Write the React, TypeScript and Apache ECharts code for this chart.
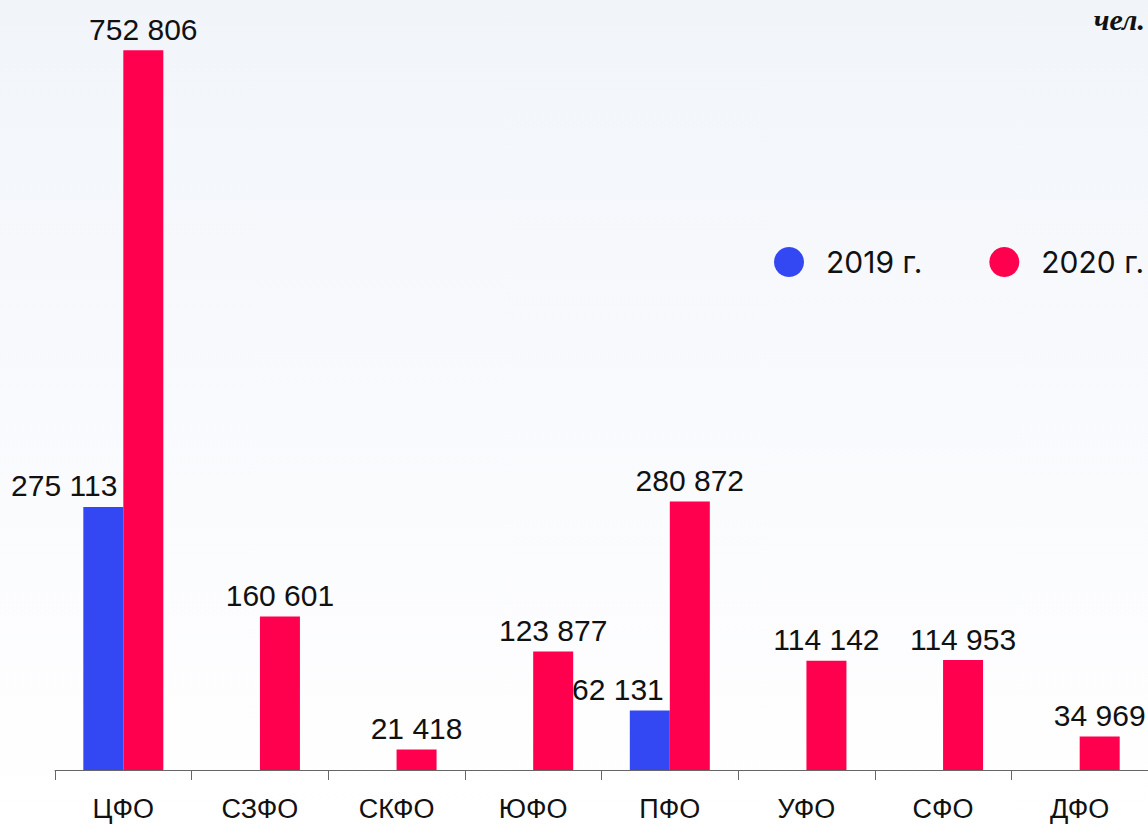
import React, { useEffect, useRef } from "react";
import * as echarts from "echarts";

const categories = ["ЦФО", "СЗФО", "СКФО", "ЮФО", "ПФО", "УФО", "СФО", "ДФО"];
const values2019: (number | null)[] = [275113, null, null, null, 62131, null, null, null];
const values2020: number[] = [752806, 160601, 21418, 123877, 280872, 114142, 114953, 34969];
const seriesNames = ["2019 г.", "2020 г."];
const unitLabel = "чел.";

const fmt = (v: number) => {
  const s = String(Math.round(v));
  return s.replace(/\B(?=(\d{3})+(?!\d))/g, " ");
};

const FONT = "Liberation Sans";

export default function App() {
  const ref = useRef<HTMLDivElement>(null);
  useEffect(() => {
    if (!ref.current) return;
    const chart = echarts.init(ref.current, undefined, { renderer: "svg" });
    chart.setOption({
      animation: false,
      backgroundColor: "transparent",
      textStyle: { fontFamily: FONT },
      grid: { left: 55, top: 5, width: 1096, bottom: 55, containLabel: false },
      legend: {
        data: seriesNames,
        orient: "horizontal",
        left: 774,
        top: 247,
        width: 420,
        padding: 0,
        icon: "circle",
        itemWidth: 30,
        itemHeight: 30,
        itemGap: 67,
        textStyle: { fontSize: 30, color: "#111", fontFamily: "Inter", padding: [0, 0, 0, 17] },
      },
      xAxis: {
        type: "category",
        data: categories,
        axisLine: { lineStyle: { color: "#666", width: 1 } },
        axisTick: { show: true, length: 10, lineStyle: { color: "#666" } },
        axisLabel: { fontSize: 27, color: "#111", margin: 25, fontFamily: FONT },
      },
      yAxis: {
        type: "value",
        min: 0,
        max: 800000,
        show: false,
        splitLine: { show: false },
      },
      series: [
        {
          name: seriesNames[0],
          type: "bar",
          data: values2019,
          barWidth: 40,
          barGap: "0%",
          itemStyle: { color: "#3347F2" },
          label: {
            show: true,
            position: "top",
            align: "right",
            offset: [14, 0],
            distance: 6,
            fontSize: 30,
            color: "#111",
            fontFamily: FONT,
            formatter: (p: any) => fmt(p.value),
          },
        },
        {
          name: seriesNames[1],
          type: "bar",
          data: values2020,
          barWidth: 40,
          barGap: "0%",
          itemStyle: { color: "#FF004F" },
          label: {
            show: true,
            position: "top",
            distance: 6,
            fontSize: 30,
            color: "#111",
            fontFamily: FONT,
            formatter: (p: any) => fmt(p.value),
          },
        },
      ],
      graphic: [
        {
          type: "text",
          right: 3,
          top: 4,
          style: {
            text: unitLabel,
            font: "italic bold 30px 'Liberation Serif'",
            fill: "#111",
          },
        },
      ],
    });
    return () => chart.dispose();
  }, []);
  return (
    <div
      ref={ref}
      style={{
        position: "fixed",
        left: 0,
        top: 0,
        width: 1148,
        height: 825,
        background: "linear-gradient(180deg, #F1F5FA 0%, #F9FAFD 50%, #FFFFFF 100%)",
      }}
    />
  );
}
